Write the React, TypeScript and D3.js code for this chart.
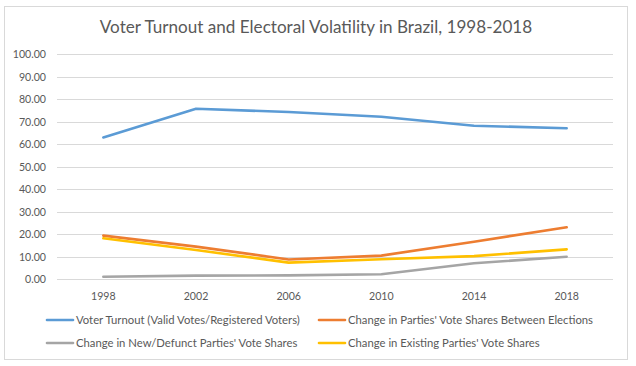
import { useEffect, useRef } from 'react';
import * as d3 from 'd3';

const years = ['1998', '2002', '2006', '2010', '2014', '2018'];
const turnout = [63.0, 75.8, 74.3, 72.2, 68.2, 67.1];
const partyChange = [19.3, 14.4, 8.7, 10.4, 16.6, 23.0];
const newDefunct = [1.0, 1.5, 1.6, 2.1, 7.0, 9.9];
const existing = [18.1, 12.9, 7.3, 8.8, 10.2, 13.2];
const yTicks = [0, 10, 20, 30, 40, 50, 60, 70, 80, 90, 100];

const seriesNames = [
  'Voter Turnout (Valid Votes/Registered Voters)',
  "Change in Parties' Vote Shares Between Elections",
  "Change in New/Defunct Parties' Vote Shares",
  "Change in Existing Parties' Vote Shares",
];
const seriesValues = [turnout, partyChange, newDefunct, existing];
const colors = ['#5B9BD5', '#ED7D31', '#A5A5A5', '#FFC000'];

export default function App() {
  const svgRef = useRef<SVGSVGElement>(null);

  useEffect(() => {
    const svg = d3.select(svgRef.current);
    svg.selectAll('*').remove();

    const W = 636, H = 366;
    const font = 'Lato, "Open Sans", sans-serif';
    const textColor = '#595959';

    svg.attr('width', W).attr('height', H);

    // chart frame
    svg.append('rect')
      .attr('x', 4.5).attr('y', 6.5)
      .attr('width', 623).attr('height', 353)
      .attr('fill', '#fff').attr('stroke', '#D9D9D9');

    svg.append('text')
      .attr('x', 316).attr('y', 33)
      .attr('text-anchor', 'middle')
      .attr('font-family', font).attr('font-size', 17.1)
      .attr('fill', textColor)
      .text('Voter Turnout and Electoral Volatility in Brazil, 1998-2018');

    const x = d3.scaleBand().domain(years).range([57, 613]);
    const y = d3.scaleLinear().domain([0, 100]).range([279, 54.3]);

    // gridlines + y labels
    yTicks.forEach(v => {
      svg.append('line')
        .attr('x1', 57).attr('x2', 613)
        .attr('y1', Math.round(y(v)) + 0.5).attr('y2', Math.round(y(v)) + 0.5)
        .attr('stroke', '#D9D9D9').attr('stroke-width', 1);
      svg.append('text')
        .attr('x', 46).attr('y', y(v) + 4)
        .attr('text-anchor', 'end')
        .attr('font-family', font).attr('font-size', 10.6)
        .attr('fill', textColor)
        .text(d3.format('.2f')(v));
    });

    years.forEach(yr => {
      svg.append('text')
        .attr('x', x(yr)! + x.bandwidth() / 2).attr('y', 300)
        .attr('text-anchor', 'middle')
        .attr('font-family', font).attr('font-size', 10.6)
        .attr('fill', textColor)
        .text(yr);
    });

    const line = d3.line<number>()
      .x((_, i) => x(years[i])! + x.bandwidth() / 2)
      .y(d => y(d));

    seriesValues.forEach((vals, i) => {
      svg.append('path')
        .datum(vals)
        .attr('d', line)
        .attr('fill', 'none')
        .attr('stroke', colors[i])
        .attr('stroke-width', 2.6)
        .attr('stroke-linejoin', 'round')
        .attr('stroke-linecap', 'round');
    });

    // legend
    const legendPos = [
      { x: 46, y: 320 },
      { x: 318, y: 320 },
      { x: 46, y: 343 },
      { x: 318, y: 343 },
    ];
    seriesNames.forEach((name, i) => {
      const p = legendPos[i];
      svg.append('line')
        .attr('x1', p.x + 1).attr('x2', p.x + 27)
        .attr('y1', p.y).attr('y2', p.y)
        .attr('stroke', colors[i]).attr('stroke-width', 2.6)
        .attr('stroke-linecap', 'round');
      svg.append('text')
        .attr('x', p.x + 30).attr('y', p.y + 4)
        .attr('font-family', font).attr('font-size', 11.3)
        .attr('fill', textColor)
        .text(name);
    });
  }, []);

  return (
    <svg
      ref={svgRef}
      style={{ position: 'absolute', left: 0, top: 0, display: 'block' }}
    />
  );
}
